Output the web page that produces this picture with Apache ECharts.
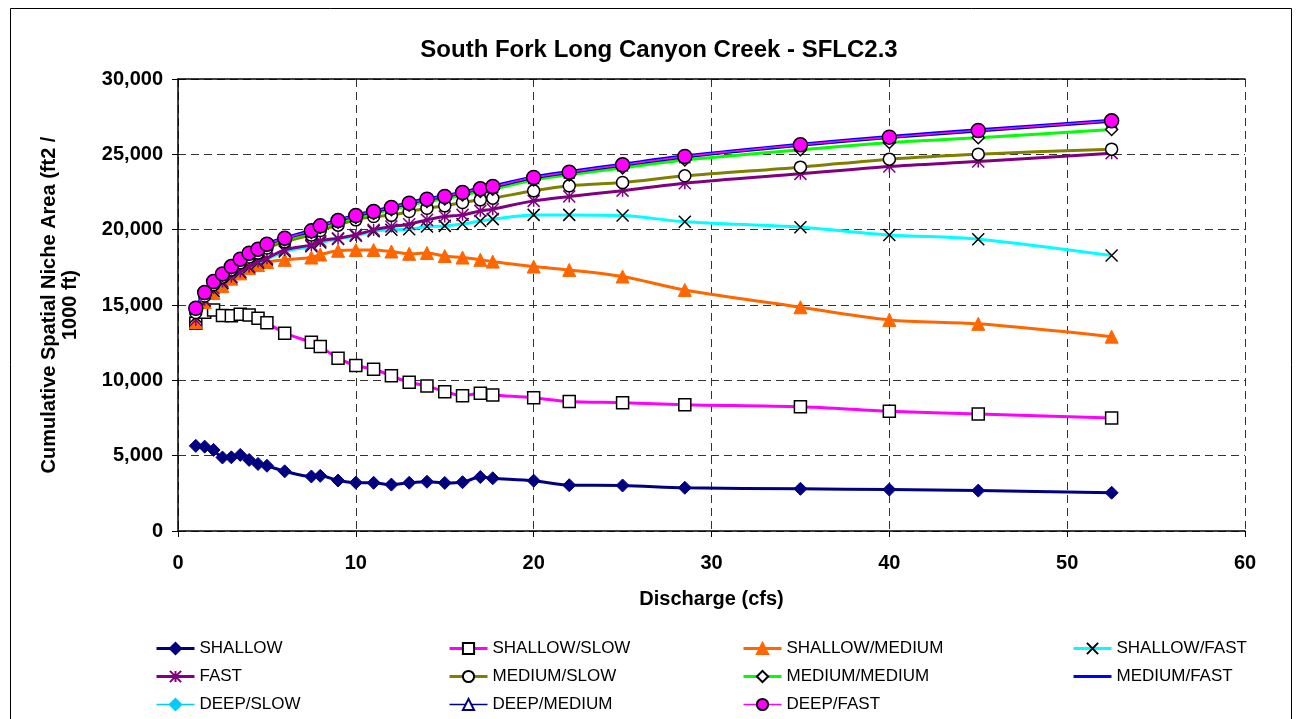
<!DOCTYPE html>
<html>
<head>
<meta charset="utf-8">
<script src="https://cdn.jsdelivr.net/npm/echarts@6/dist/echarts.min.js"></script>
<style>
html,body{margin:0;padding:0;background:#fff;}
#chart{width:1302px;height:719px;}
</style>
</head>
<body>
<div id="chart"></div>
<script>
// ---- Data ----
const titleText = 'South Fork Long Canyon Creek - SFLC2.3';
const xAxisTitle = 'Discharge (cfs)';
const yAxisTitleLines = ['Cumulative Spatial Niche Area (ft2 /', '1000 ft)'];
const xTicks = [0, 10, 20, 30, 40, 50, 60];
const yTicks = [0, 5000, 10000, 15000, 20000, 25000, 30000];

const discharge = [1,1.5,2,2.5,3,3.5,4,4.5,5,6,7.5,8,9,10,11,12,13,14,15,16,17,17.7,20,22,25,28.5,35,40,45,52.5];

const shallow = [5650,5600,5380,4880,4890,5050,4720,4450,4330,3960,3620,3660,3350,3210,3200,3080,3200,3270,3190,3240,3580,3500,3340,3040,3020,2870,2800,2750,2680,2540];
const shallowSlow = [13790,14520,14670,14300,14280,14390,14340,14120,13830,13130,12530,12240,11470,10980,10740,10300,9870,9630,9250,8980,9140,9030,8850,8590,8520,8380,8240,7950,7760,7500];
const shallowMedium = [13850,15200,15800,16250,16750,17100,17450,17650,17850,18000,18150,18350,18600,18650,18650,18550,18400,18450,18250,18150,18000,17880,17550,17330,16890,16000,14850,14010,13750,12900];
const shallowFast = [14200,15300,15950,16450,16850,17180,17500,17800,18030,18550,18900,19150,19380,19600,19900,19990,20030,20210,20250,20370,20580,20700,20980,20980,20940,20520,20160,19650,19370,18280];
const fast = [14010,15350,16115,16553,16886,17218,17550,17881,18107,18658,18990,19256,19435,19654,19986,20207,20365,20650,20870,20982,21248,21361,21912,22200,22590,23086,23705,24189,24521,25079];
const mediumSlow = [14500,15600,16350,16850,17330,17800,18180,18450,18780,19200,19650,19950,20300,20650,20870,20950,21202,21427,21580,21799,21978,22091,22576,22908,23127,23572,24150,24681,25013,25345];
const mediumMedium = [14730,15760,16490,17000,17480,17970,18360,18620,18950,19340,19820,20150,20490,20810,21070,21330,21620,21880,22040,22300,22540,22690,23300,23640,24100,24620,25300,25790,26100,26650];
const mediumFast = [14820,15860,16590,17100,17590,18080,18480,18745,19080,19475,19960,20295,20645,20980,21245,21510,21800,22070,22245,22505,22755,22905,23505,23860,24345,24900,25675,26185,26625,27270];
const deepSlow = [14770,15805,16535,17045,17530,18020,18420,18685,19015,19415,19900,20230,20585,20915,21180,21450,21740,22005,22180,22440,22690,22840,23440,23795,24280,24830,25605,26115,26555,27200];
const deepMedium = [14720,15760,16490,17000,17490,17980,18380,18645,18975,19375,19860,20190,20545,20875,21140,21405,21695,21960,22135,22400,22645,22795,23390,23745,24230,24780,25550,26060,26500,27140];
const deepFast = [14787,15823,16553,17064,17550,18041,18439,18705,19037,19435,19920,20252,20604,20936,21202,21469,21759,22025,22200,22463,22710,22862,23460,23816,24302,24854,25630,26141,26580,27224];

const seriesNames = ['SHALLOW','SHALLOW/SLOW','SHALLOW/MEDIUM','SHALLOW/FAST','FAST','MEDIUM/SLOW','MEDIUM/MEDIUM','MEDIUM/FAST','DEEP/SLOW','DEEP/MEDIUM','DEEP/FAST'];
const seriesValues = [shallow, shallowSlow, shallowMedium, shallowFast, fast, mediumSlow, mediumMedium, mediumFast, deepSlow, deepMedium, deepFast];
const legendColumns = [
  ['SHALLOW','FAST','DEEP/SLOW'],
  ['SHALLOW/SLOW','MEDIUM/SLOW','DEEP/MEDIUM'],
  ['SHALLOW/MEDIUM','MEDIUM/MEDIUM','DEEP/FAST'],
  ['SHALLOW/FAST','MEDIUM/FAST']
];

// ---- Styles ----
const FONT = 'Arial, "Liberation Sans", Helvetica, sans-serif';
const X_PATH = 'path://M0,0L10,10M10,0L0,10';
const STAR_PATH = 'path://M5,0L5,10M0,0L10,10M10,0L0,10';
const styles = [
  {line:'#000080', w:3, symbol:'diamond', size:13, fill:'#000080', border:'#000080', bw:1},
  {line:'#FF00FF', w:3, symbol:'rect', size:12, fill:'#ffffff', border:'#000000', bw:1.5},
  {line:'#FF6600', w:3, symbol:'triangle', size:13, fill:'#FF6600', border:'#FF6600', bw:1},
  {line:'#00FFFF', w:3, symbol:X_PATH, size:12, fill:'none', border:'#000000', bw:1.5},
  {line:'#800080', w:3, symbol:STAR_PATH, size:12, fill:'none', border:'#800080', bw:1.5},
  {line:'#808000', w:3, symbol:'circle', size:12, fill:'#ffffff', border:'#000000', bw:1.5},
  {line:'#00FF00', w:3, symbol:'diamond', size:12, fill:'#ffffff', border:'#000000', bw:1.5},
  {line:'#0000FF', w:3, symbol:'none', size:0, fill:'#0000FF', border:'#0000FF', bw:0},
  {line:'#00CCFF', w:1.5, symbol:'diamond', size:8, fill:'#00CCFF', border:'#00CCFF', bw:1},
  {line:'#000080', w:1.5, symbol:'triangle', size:10, fill:'#ffffff', border:'#000080', bw:1.2},
  {line:'#FF00FF', w:1.5, symbol:'circle', size:14, fill:'#FF00FF', border:'#000000', bw:1.5}
];

const series = seriesNames.map((name, i) => {
  const s = styles[i];
  return {
    name: name,
    type: 'line',
    data: discharge.map((x, j) => [x, seriesValues[i][j]]),
    smooth: 0.3,
    showSymbol: s.symbol !== 'none',
    symbol: s.symbol,
    symbolSize: s.size,
    lineStyle: {color: s.line, width: s.w},
    itemStyle: {color: s.fill, borderColor: s.border, borderWidth: s.bw},
    emphasis: {disabled: true},
    z: 2 + i * 0.01
  };
});

const legendLefts = [155, 448, 742, 1072];
const legends = legendColumns.map((col, k) => ({
  orient: 'vertical',
  left: legendLefts[k],
  top: 640,
  height: 79,
  padding: 0,
  itemGap: 11,
  itemWidth: 38,
  itemHeight: 14,
  selectedMode: false,
  textStyle: {fontFamily: FONT, fontSize: 17, lineHeight: 17, color: '#000'},
  data: col.map(n => {
    const s = styles[seriesNames.indexOf(n)];
    const item = {name: n, lineStyle: {width: s.w, color: s.line}};
    if (s.symbol === 'none') item.itemStyle = {opacity: 0};
    return item;
  })
}));

const chart = echarts.init(document.getElementById('chart'), null, {renderer: 'canvas'});
chart.setOption({
  animation: false,
  backgroundColor: '#ffffff',
  title: {
    text: titleText,
    left: 654, top: 33, textAlign: 'center',
    textStyle: {fontFamily: FONT, fontSize: 24, fontWeight: 'bold', color: '#000'}
  },
  grid: {left: 178, right: 57, top: 79, bottom: 188, containLabel: false},
  xAxis: [{
    type: 'value', min: xTicks[0], max: xTicks[xTicks.length - 1], interval: 10,
    axisLine: {show: true, onZero: false, lineStyle: {color: '#000', width: 1.5}},
    axisTick: {show: true, inside: false, length: 6, lineStyle: {color: '#000', width: 1}},
    axisLabel: {margin: 22, fontFamily: FONT, fontSize: 20, fontWeight: 'bold', color: '#000'},
    splitLine: {show: true, lineStyle: {color: '#333', width: 1, type: [8, 5]}},
    name: xAxisTitle, nameLocation: 'middle', nameGap: 58,
    nameTextStyle: {fontFamily: FONT, fontSize: 20, fontWeight: 'bold', color: '#000'}
  }, {
    type: 'value', position: 'top', min: xTicks[0], max: xTicks[xTicks.length - 1],
    axisLine: {show: true, onZero: false, lineStyle: {color: '#000', width: 1.5}},
    axisTick: {show: false}, axisLabel: {show: false}, splitLine: {show: false}
  }],
  yAxis: {
    type: 'value', min: yTicks[0], max: yTicks[yTicks.length - 1], interval: 5000,
    axisLine: {show: true, onZero: false, lineStyle: {color: '#000', width: 1.5}},
    axisTick: {show: true, inside: false, length: 6, lineStyle: {color: '#000', width: 1}},
    axisLabel: {
      margin: 15, fontFamily: FONT, fontSize: 20, fontWeight: 'bold', color: '#000',
      formatter: v => v.toLocaleString('en-US')
    },
    splitLine: {show: true, lineStyle: {color: '#333', width: 1, type: [8, 5]}}
  },
  legend: legends,
  graphic: [
    {type: 'rect', shape: {x: 10.5, y: 8.5, width: 1281, height: 760}, style: {fill: 'none', stroke: '#000', lineWidth: 1}, silent: true, z: 0},
    {type: 'text', x: 49, y: 305, rotation: Math.PI / 2,
     style: {text: yAxisTitleLines[0], fontFamily: FONT, fontSize: 20, fontWeight: 'bold', fill: '#000', textAlign: 'center', textVerticalAlign: 'middle'}},
    {type: 'text', x: 70, y: 305, rotation: Math.PI / 2,
     style: {text: yAxisTitleLines[1], fontFamily: FONT, fontSize: 20, fontWeight: 'bold', fill: '#000', textAlign: 'center', textVerticalAlign: 'middle'}}
  ],
  series: series
});
</script>
</body>
</html>
